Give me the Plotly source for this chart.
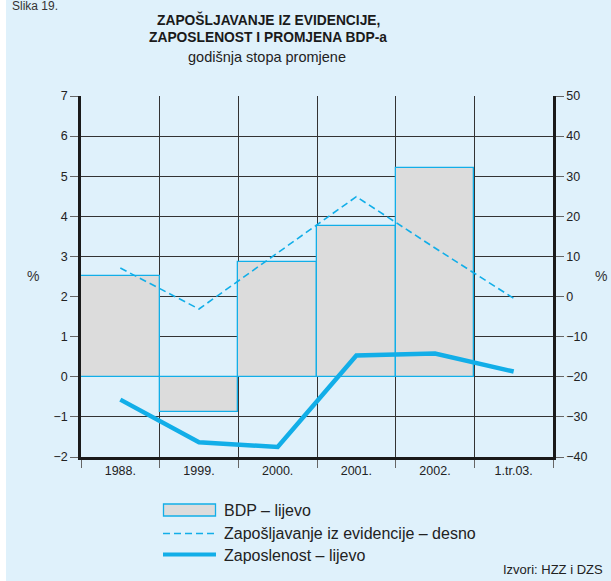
import plotly.graph_objects as go

categories = ["1988.", "1999.", "2000.", "2001.", "2002.", "1.tr.03."]
bdp = [2.52, -0.87, 2.86, 3.77, 5.20, None]
zaposljavanje = [7.1, -3.1, 10.9, 24.9, 12.1, -0.45]
zaposlenost = [-0.57, -1.63, -1.75, 0.53, 0.58, 0.13]
left_ticks = [-2, -1, 0, 1, 2, 3, 4, 5, 6, 7]
right_ticks = [-40, -30, -20, -10, 0, 10, 20, 30, 40, 50]

W, H = 611, 581
L, R, T, B = 81, 58, 96, 124
PW, PH = W - L - R, H - T - B

def px(x):
    return (x - L) / PW

def py(y):
    return (H - B - y) / PH

CYAN = "#12aee8"
BG = "#dff1fb"
FONT = "Liberation Sans, Arial, sans-serif"

fig = go.Figure()
fig.add_trace(go.Bar(
    x=categories, y=bdp, width=1.0,
    marker=dict(color="#dcdcdc", line=dict(color=CYAN, width=1.3)),
    name="BDP – lijevo", showlegend=False, yaxis="y",
))
fig.add_trace(go.Scatter(
    x=categories, y=zaposljavanje, mode="lines",
    line=dict(color=CYAN, width=1.6, dash="7px,4px"),
    name="Zapošljavanje iz evidencije – desno", showlegend=False, yaxis="y2",
))
fig.add_trace(go.Scatter(
    x=categories, y=zaposlenost, mode="lines",
    line=dict(color=CYAN, width=4.5),
    name="Zaposlenost – lijevo", showlegend=False, yaxis="y",
))

shapes = [
    dict(type="rect", xref="paper", yref="paper", x0=px(6), x1=px(611), y0=py(0), y1=py(581),
         fillcolor=BG, line=dict(width=0), layer="below"),
    # legend symbols
    dict(type="rect", xref="paper", yref="paper", x0=px(163.5), x1=px(215.5), y0=py(504), y1=py(516),
         fillcolor="#dcdcdc", line=dict(color=CYAN, width=1.3)),
    dict(type="line", xref="paper", yref="paper", x0=px(163), x1=px(216), y0=py(533.5), y1=py(533.5),
         line=dict(color=CYAN, width=1.6, dash="7px,4px")),
    dict(type="line", xref="paper", yref="paper", x0=px(163), x1=px(216), y0=py(554.5), y1=py(554.5),
         line=dict(color=CYAN, width=4)),
]

def ann(text, x, y, xanchor, size, family=FONT, color="#222"):
    return dict(text=text, x=px(x), y=py(y), xref="paper", yref="paper", xanchor=xanchor,
                yanchor="middle", showarrow=False, font=dict(family=family, size=size, color=color))

annotations = [
    ann("Slika 19.", 10, 6, "left", 12, color="#333"),
    ann("<b>ZAPOŠLJAVANJE IZ EVIDENCIJE,</b>", 268, 19.5, "center", 13.8, color="#1a1a1a"),
    ann("<b>ZAPOSLENOST I PROMJENA BDP-a</b>", 268, 37.5, "center", 13.8, color="#1a1a1a"),
    ann("godišnja stopa promjene", 267, 56.5, "center", 14.5),
    ann("%", 33, 276, "center", 14, color="#333"),
    ann("%", 601, 276, "center", 14, color="#333"),
    ann("BDP – lijevo", 222, 511, "left", 16),
    ann("Zapošljavanje iz evidencije – desno", 222, 533, "left", 16),
    ann("Zaposlenost – lijevo", 222, 555, "left", 16),
    ann("Izvori: HZZ i DZS", 605, 569, "right", 13),
]

fig.update_layout(
    width=W, height=H,
    margin=dict(l=L, r=R, t=T, b=B, pad=0),
    paper_bgcolor="white", plot_bgcolor="rgba(0,0,0,0)",
    showlegend=False, bargap=0,
    font=dict(family=FONT, size=12, color="#222"),
    shapes=shapes, annotations=annotations,
    xaxis=dict(
        type="category", tickson="boundaries", range=[-0.5, 5.5],
        showgrid=True, gridcolor="#333", gridwidth=1,
        ticks="outside", ticklen=8, tickcolor="#666", tickwidth=1,
        showline=True, linecolor="#1a1a1a", linewidth=2.5,
        tickfont=dict(size=12.5, color="#222"),
    ),
    yaxis=dict(
        range=[-2, 7], tickvals=left_ticks, ticktext=[str(v).replace("-", "−") for v in left_ticks],
        showgrid=True, gridcolor="#333", gridwidth=1,
        zeroline=False,
        ticks="outside", ticklen=8, tickcolor="#666", tickwidth=1,
        showline=True, linecolor="#1a1a1a", linewidth=2.5,
        tickfont=dict(size=12.5, color="#222"),
    ),
    yaxis2=dict(
        range=[-40, 50], tickvals=right_ticks, ticktext=[str(v).replace("-", "−") for v in right_ticks],
        overlaying="y", side="right", showgrid=False, zeroline=False,
        ticks="outside", ticklen=8, tickcolor="#666", tickwidth=1,
        showline=True, linecolor="#1a1a1a", linewidth=2.5,
        tickfont=dict(size=12.5, color="#222"),
    ),
)

fig.write_html(
    "out.html",
    config={"displayModeBar": False},
    post_script="document.body.style.margin='0';document.body.style.padding='0';document.documentElement.style.overflow='hidden';",
)
